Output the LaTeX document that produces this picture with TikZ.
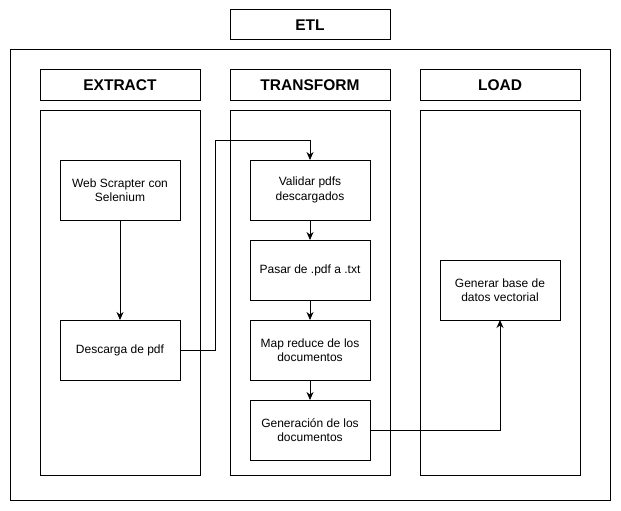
\documentclass[tikz,border=0pt]{standalone}
\usepackage{fontspec}
\setmainfont{Liberation Sans}
\usepackage{tikz}
\usetikzlibrary{arrows.meta}

\begin{document}
\begin{tikzpicture}[x=1pt,y=-1pt,line width=1pt,
  box/.style={draw,inner sep=0pt,outer sep=0pt,minimum width=120pt,minimum height=60pt,
              align=center,font=\fontsize{12}{14.5}\selectfont},
  head/.style={draw,inner sep=0pt,outer sep=0pt,minimum width=160pt,minimum height=30pt,
               font=\fontsize{15.5}{18}\selectfont\bfseries},
  col/.style={draw,inner sep=0pt,outer sep=0pt,minimum width=160pt,minimum height=365pt},
  flow/.style={-{Stealth[length=8pt,width=7pt]}}]
\fill[white](0,0)rectangle(621,511);
\useasboundingbox(0,0)rectangle(621,511);
% titulo y marco
\node[head](etl)at(310,25){ETL};
\node[draw,inner sep=0pt,outer sep=0pt,minimum width=600pt,minimum height=450pt](marco)at(310,275){};
% columnas
\node[head](hext)at(120,85){EXTRACT};
\node[head](htra)at(310,85){TRANSFORM};
\node[head](hload)at(500,85){LOAD};
\node[col](cext)at(120,292.5){};
\node[col](ctra)at(310,292.5){};
\node[col](cload)at(500,292.5){};
% pasos
\node[box](scrap)at(120,190){Web Scrapter con\\Selenium};
\node[box](desc)at(120,350){Descarga de pdf};
\node[box](valid)at(310,190){Validar pdfs\\descargados};
\node[box](pasar)at(310,270){Pasar de .pdf a .txt};
\node[box](mapr)at(310,350){Map reduce de los\\documentos};
\node[box](gen)at(310,430){Generación de los\\documentos};
\node[box](base)at(500,290){Generar base de\\datos vectorial};
\coordinate(codo)at(215,140);
% flechas
\draw[flow](scrap)--(desc);
\draw[flow](desc.east)-|(codo)-|(valid.north);
\draw[flow](valid)--(pasar);
\draw[flow](pasar)--(mapr);
\draw[flow](mapr)--(gen);
\draw[flow](gen.east)-|(base.south);
\end{tikzpicture}
\end{document}
